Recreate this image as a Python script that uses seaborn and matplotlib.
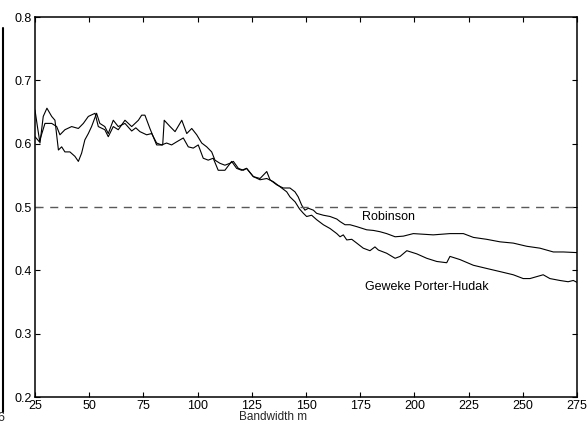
import numpy as np
import pandas as pd
import seaborn as sns
import matplotlib
matplotlib.use("Agg")
import matplotlib.pyplot as plt
from matplotlib.lines import Line2D

# ---- data ----
rob_m = [25, 27, 29.6, 32.7, 35, 36.5, 38.8, 41.9, 45, 47.3, 49.6, 52.7, 54.2, 57.2, 58.8,
         61.1, 63.4, 66.5, 69.6, 72.7, 74.2, 75.7, 78.0, 81.1, 83.9, 84.6, 87.3, 89.6, 92.7,
         95.0, 97.3, 99.6, 101.9, 104.2, 106.5, 108.0, 110.3, 112.6, 114.9, 116.5, 118.8,
         121.1, 122.6, 125.7, 128.8, 131.9, 133.4, 136.5, 139.5, 142.6, 144.9, 146.4, 148.0,
         149.5, 151.1, 153.4, 154.9, 158.0, 161.1, 164.2, 165.7, 168.0, 170.3, 173.4, 178.0,
         181.1, 184.1, 187.2, 191.1, 194.9, 199.5, 204.1, 208.7, 216.4, 222.6, 227.2, 233.3,
         239.5, 245.6, 251.8, 257.9, 264.1, 268.7, 275]
rob_v = [0.611, 0.603, 0.632, 0.632, 0.627, 0.614, 0.622, 0.627, 0.624, 0.632, 0.643, 0.648,
         0.627, 0.622, 0.611, 0.627, 0.622, 0.637, 0.627, 0.637, 0.645, 0.645, 0.624, 0.598,
         0.598, 0.637, 0.627, 0.619, 0.637, 0.616, 0.624, 0.614, 0.601, 0.595, 0.587, 0.574,
         0.569, 0.566, 0.569, 0.572, 0.561, 0.558, 0.561, 0.548, 0.545, 0.556, 0.543, 0.535,
         0.530, 0.530, 0.524, 0.516, 0.503, 0.495, 0.498, 0.495, 0.490, 0.487, 0.485, 0.481,
         0.477, 0.472, 0.472, 0.469, 0.464, 0.463, 0.461, 0.458, 0.453, 0.454, 0.458, 0.457,
         0.456, 0.458, 0.458, 0.452, 0.449, 0.445, 0.443, 0.438, 0.435, 0.429, 0.429, 0.428]

gph_m = [25, 26.2, 27.3, 28.8, 30.5, 32.7, 34.2, 35.8, 37.3, 38.8, 41.1, 43.4, 45.0, 46.5,
         48.0, 49.6, 51.1, 53.4, 54.9, 57.2, 58.8, 61.1, 63.4, 66.5, 69.6, 71.5, 73.4, 76.5,
         78.8, 81.1, 83.4, 85.7, 88.0, 90.4, 93.4, 95.7, 98.0, 100.3, 102.6, 104.9, 107.2,
         109.5, 112.6, 115.7, 118.0, 120.3, 122.6, 125.7, 128.8, 131.9, 134.9, 138.0, 141.1,
         142.6, 145, 147, 148.8, 150.3, 152.6, 154.9, 158.0, 161.1, 164.2, 165.7, 167.2, 168.8,
         171.1, 173.4, 176.4, 179.5, 181.8, 183.4, 187.2, 191.1, 193.4, 196.5, 201.1, 205.7,
         210.3, 214.9, 216.4, 221.0, 227.2, 233.3, 239.5, 245.6, 250.2, 253.3, 259.4, 262.5,
         267.1, 270.9, 273.3, 275]
gph_v = [0.653, 0.625, 0.601, 0.643, 0.656, 0.643, 0.637, 0.590, 0.595, 0.587, 0.587, 0.580,
         0.572, 0.585, 0.606, 0.616, 0.627, 0.648, 0.632, 0.627, 0.616, 0.637, 0.627, 0.632,
         0.620, 0.625, 0.619, 0.614, 0.616, 0.601, 0.598, 0.601, 0.598, 0.603, 0.609, 0.595,
         0.593, 0.598, 0.577, 0.574, 0.577, 0.558, 0.558, 0.572, 0.561, 0.558, 0.561, 0.548,
         0.543, 0.545, 0.540, 0.532, 0.524, 0.516, 0.508, 0.497, 0.490, 0.485, 0.487, 0.480,
         0.472, 0.466, 0.458, 0.453, 0.456, 0.448, 0.449, 0.443, 0.435, 0.431, 0.437, 0.432,
         0.427, 0.419, 0.422, 0.431, 0.426, 0.419, 0.414, 0.412, 0.422, 0.417, 0.408, 0.403,
         0.398, 0.393, 0.387, 0.387, 0.393, 0.387, 0.384, 0.382, 0.384, 0.381]

ref_level = 0.5
x_ticks = [25, 50, 75, 100, 125, 150, 175, 200, 225, 250, 275]
y_ticks = [0.2, 0.3, 0.4, 0.5, 0.6, 0.7, 0.8]
y_ticklabels = ["0.2", "0.3", "0.4", "0.5", "0.6", "0.7", "0.8"]
labels = ["Robinson", "Geweke Porter-Hudak"]
label_pos = [(176, 0.484), (177, 0.373)]
x_title = "Bandwidth m"

# ---- plotting ----
sns.set_style("ticks")
plt.rcParams["font.family"] = ["Liberation Sans", "DejaVu Sans"]

W, H = 587, 426
fig = plt.figure(figsize=(W / 100, H / 100), dpi=100)
ax = fig.add_axes([35 / W, 1 - 397 / H, 542 / W, 380 / H])

df_r = pd.DataFrame({"m": rob_m, "v": rob_v})
df_g = pd.DataFrame({"m": gph_m, "v": gph_v})
sns.lineplot(data=df_r, x="m", y="v", ax=ax, color="black", lw=0.8, estimator=None, sort=False)
sns.lineplot(data=df_g, x="m", y="v", ax=ax, color="black", lw=0.8, estimator=None, sort=False)
ax.axhline(ref_level, color="0.35", lw=1.0, dashes=(5.8, 4.8))

for txt, (xm, yv) in zip(labels, label_pos):
    ax.text(xm, yv, txt, fontsize=9, ha="left", va="center", color="black")

ax.set_xlim(25, 275)
ax.set_ylim(0.2, 0.8)
ax.set_xticks(x_ticks)
ax.set_yticks(y_ticks)
ax.set_yticklabels(y_ticklabels)
ax.tick_params(direction="in", length=3.5, width=0.8, top=True, right=True,
               labelsize=9, pad=2, colors="black")
for s in ax.spines.values():
    s.set_visible(True)
    s.set_linewidth(1.1)
    s.set_color("black")
ax.set_xlabel(x_title, fontsize=8.5)
ax.set_ylabel("")
ax.xaxis.set_label_coords((273.5 - 35) / 542, -0.038)
ax.xaxis.label.set_va("top")

# fragment of the neighbouring panel at the left edge
fig.add_artist(Line2D([2.8 / W, 2.8 / W], [1 - 28 / H, 1 - 412 / H], color="black", lw=1.5,
                      transform=fig.transFigure))
fig.text(4.5 / W, 1 - 418 / H, "6", fontsize=9, ha="right", va="center")

fig.savefig("out.png", dpi=100)
